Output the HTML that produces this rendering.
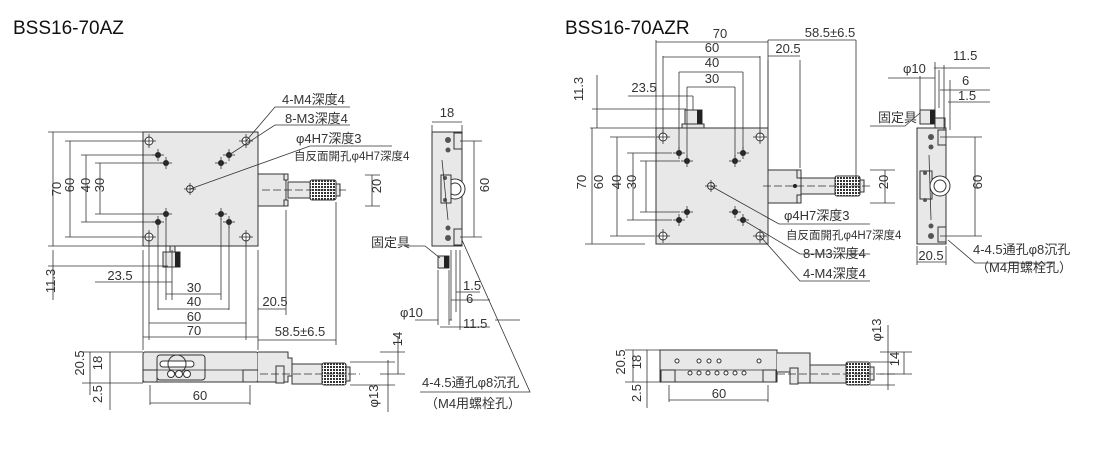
<!DOCTYPE html>
<html><head><meta charset="utf-8"><style>
html,body{margin:0;padding:0;background:#fff;width:1099px;height:466px;overflow:hidden}
svg{display:block}
text{font-family:"Liberation Sans","Noto Sans CJK JP",sans-serif;fill:#333;font-size:13px}
.t{font-size:19px;fill:#111}
.l{stroke:#333;stroke-width:0.8;fill:none}
.p{fill:#e8e8e8;stroke:#333;stroke-width:1}
.k{fill:#555}
</style></head><body>
<svg width="1099" height="466" viewBox="0 0 1099 466" xmlns="http://www.w3.org/2000/svg">
<defs>
<pattern id="kn" width="3" height="3" patternUnits="userSpaceOnUse"><rect width="3" height="3" fill="#fff"/><rect width="2" height="2" fill="#333"/></pattern>
<g id="m4"><circle r="4" fill="#fff" stroke="#333"/><line x1="-7" y1="0" x2="7" y2="0" class="l"/><line x1="0" y1="-7" x2="0" y2="7" class="l"/></g>
<g id="m3"><circle r="3" fill="#222"/><line x1="-6" y1="0" x2="6" y2="0" class="l"/><line x1="0" y1="-6" x2="0" y2="6" class="l"/></g>
</defs>
<text x="13" y="34" class="t">BSS16-70AZ</text>
<text x="565" y="34" class="t">BSS16-70AZR</text>

<!-- LEFT TOP VIEW -->
<rect x="143" y="132" width="115" height="114" class="p"/>
<use href="#m4" x="149" y="141"/><use href="#m4" x="246" y="141"/><use href="#m4" x="149" y="237"/><use href="#m4" x="246" y="237"/>
<use href="#m3" x="158" y="155"/><use href="#m3" x="166" y="163"/><use href="#m3" x="158" y="222"/><use href="#m3" x="166" y="214"/>
<use href="#m3" x="221" y="163"/><use href="#m3" x="229" y="155"/><use href="#m3" x="221" y="214"/><use href="#m3" x="229" y="222"/>
<circle cx="190" cy="189" r="3.5" fill="#fff" stroke="#333"/><line x1="184" y1="189" x2="196" y2="189" class="l"/><line x1="190" y1="183" x2="190" y2="195" class="l"/>
<rect x="258" y="174" width="28" height="32" class="p"/>
<rect x="284" y="174" width="4" height="6" class="p"/><rect x="284" y="200" width="4" height="6" class="p"/>
<rect x="288" y="182" width="22" height="16" class="p"/>
<rect x="310" y="180" width="26" height="20" rx="2" fill="url(#kn)" stroke="#333"/>
<rect x="336" y="184" width="4" height="12" class="p"/>
<line x1="262" y1="190" x2="346" y2="190" class="l" stroke-dasharray="8 3"/>
<rect x="163" y="252" width="17" height="15" class="p"/><rect x="175" y="252" width="5" height="15" fill="#222"/>
<rect x="170" y="246" width="5" height="6" class="p"/>
<!-- dims left -->
<g class="l">
<path d="M53 132V246M48 132H143M70 141V237M65 141H143M65 237H143M86 155V222M81 155H155M81 222H155M100 163V214M95 163H163M95 214H163M48 246H143"/>
<path d="M53 250V300M48 266H168M95 282H172M172 250V300M166 218V300M221 218V300M166 294H221M158 225V310M229 225V310M158 309H229M149 240V340M246 240V340M149 323H246M143 250V350M258 250V350M143 337H258M286 210V315M258 309H286M336 202V345M258 340H336"/>
<path d="M365 175H380M365 206H380M372 175V206"/>
</g>
<text x="54" y="196" transform="rotate(-90 54 189)" text-anchor="middle">70</text>
<text x="71" y="196" transform="rotate(-90 67 189)" text-anchor="middle">60</text>
<text x="87" y="196" transform="rotate(-90 83 189)" text-anchor="middle">40</text>
<text x="101" y="196" transform="rotate(-90 97 189)" text-anchor="middle">30</text>
<text x="54" y="290" transform="rotate(-90 50 285)" text-anchor="middle">11.3</text>
<text x="385" y="190" transform="rotate(-90 381 190)" text-anchor="middle">20</text>
<text x="120" y="280" text-anchor="middle">23.5</text>
<text x="194" y="292" text-anchor="middle">30</text>
<text x="194" y="306" text-anchor="middle">40</text>
<text x="194" y="321" text-anchor="middle">60</text>
<text x="194" y="335" text-anchor="middle">70</text>
<text x="275" y="306" text-anchor="middle">20.5</text>
<text x="300" y="336" text-anchor="middle">58.5±6.5</text>
<!-- leaders -->
<g class="l"><path d="M246 141L275 107H350M229 155L275 125H350M190 189L310 146H392"/></g>
<text x="282" y="104">4-M4深度4</text>
<text x="285" y="123">8-M3深度4</text>
<text x="296" y="143">φ4H7深度3</text>
<text x="294" y="160" style="font-size:11.5px">自反面開孔φ4H7深度4</text>

<!-- LEFT SIDE VIEW -->
<rect x="432" y="132" width="30" height="114" class="p"/>
<rect x="454" y="133" width="8" height="16" class="p"/><rect x="454" y="229" width="8" height="16" class="p"/>
<circle cx="455" cy="189" r="10" fill="#fff" stroke="#333"/><circle cx="455" cy="189" r="6" fill="#fff" stroke="#333"/>
<rect x="441" y="175" width="10" height="28" class="p"/>
<circle cx="426" cy="-30" r="0"/>
<g fill="#555"><circle cx="448" cy="140" r="3"/><circle cx="448" cy="150" r="2.5"/><circle cx="448" cy="228" r="2.5"/><circle cx="448" cy="238" r="3"/><circle cx="445" cy="178" r="2"/><circle cx="445" cy="200" r="2"/></g>
<line x1="442" y1="160" x2="448" y2="220" class="l"/>
<rect x="438" y="256" width="11" height="12" class="p"/><rect x="444" y="256" width="5" height="12" fill="#222"/>
<g class="l"><path d="M432 125V132M462 125V132M432 122H462M460 141H482M460 237H482M474 141V237"/>
<path d="M438 270V325M449 270V325M451 250V320M456 250V312M460 250V330M456 292H480M451 300H490M415 320H438M440 327H490M449 320H452M495 320H520"/>
<path d="M404 246H425L440 258M462 240L530 392H420"/></g>
<text x="447" y="117" text-anchor="middle">18</text>
<text x="486" y="196" transform="rotate(-90 482 189)" text-anchor="middle">60</text>
<text x="371" y="247">固定具</text>
<text x="463" y="290">1.5</text>
<text x="466" y="303">6</text>
<text x="463" y="328">11.5</text>
<text x="400" y="317">φ10</text>

<!-- LEFT FRONT VIEW -->
<rect x="143" y="352" width="115" height="30" rx="2" class="p"/>
<rect x="157" y="355" width="48" height="25" rx="3" fill="none" stroke="#333"/>
<rect x="160" y="361" width="34" height="6" rx="3" fill="#fff" stroke="#333"/>
<circle cx="177" cy="364" r="9" fill="none" stroke="#333"/>
<g fill="#fff" stroke="#333"><circle cx="171" cy="374" r="3.5"/><circle cx="179" cy="374" r="3.5"/><circle cx="187" cy="374" r="3.5"/></g>
<rect x="143" y="370" width="14" height="12" fill="none" stroke="#333"/><rect x="243" y="370" width="15" height="12" fill="none" stroke="#333"/>
<line x1="157" y1="370" x2="243" y2="370" class="l"/>
<path d="M258 352H288V358H292V376H288V382H258" class="p"/>
<rect x="276" y="366" width="8" height="17" class="p"/>
<rect x="292" y="364" width="30" height="20" class="p"/>
<rect x="322" y="363" width="24" height="22" rx="2" fill="url(#kn)" stroke="#333"/>
<rect x="346" y="367" width="4" height="14" class="p"/>
<line x1="260" y1="374" x2="360" y2="374" class="l" stroke-dasharray="8 3"/>
<g class="l"><path d="M82 352H143M82 383H143M110 352V383M90 352V395M98 383H143M110 383V410M150 385V405M250 385V405M150 403H250M350 362H395M350 385H395M388 360V412M380 352H405M380 374H405M398 336V374"/></g>
<text x="88" y="367" transform="rotate(-90 84 367)" text-anchor="middle">20.5</text>
<text x="106" y="367" transform="rotate(-90 102 367)" text-anchor="middle">18</text>
<text x="106" y="398" transform="rotate(-90 102 398)" text-anchor="middle">2.5</text>
<text x="200" y="400" text-anchor="middle">60</text>
<text x="406" y="343" transform="rotate(-90 402 343)" text-anchor="middle">14</text>
<text x="382" y="400" transform="rotate(-90 378 400)" text-anchor="middle">φ13</text>
<text x="422" y="387">4-4.5通孔φ8沉孔</text>
<text x="425" y="408">（M4用螺栓孔）</text>

<!-- RIGHT TOP VIEW -->
<rect x="656" y="128" width="112" height="116" class="p"/>
<use href="#m4" x="663" y="137"/><use href="#m4" x="760" y="137"/><use href="#m4" x="663" y="236"/><use href="#m4" x="760" y="236"/>
<use href="#m3" x="679" y="153"/><use href="#m3" x="687" y="161"/><use href="#m3" x="679" y="220"/><use href="#m3" x="687" y="212"/>
<use href="#m3" x="735" y="161"/><use href="#m3" x="743" y="153"/><use href="#m3" x="735" y="212"/><use href="#m3" x="743" y="220"/>
<circle cx="711" cy="186" r="3.5" fill="#fff" stroke="#333"/><line x1="705" y1="186" x2="717" y2="186" class="l"/><line x1="711" y1="180" x2="711" y2="192" class="l"/>
<rect x="768" y="170" width="33" height="33" class="p"/>
<rect x="797" y="170" width="4" height="8" class="p"/><rect x="797" y="195" width="4" height="8" class="p"/>
<circle cx="795" cy="186" r="2" fill="#222"/>
<rect x="801" y="178" width="34" height="16" class="p"/>
<rect x="835" y="176" width="25" height="20" rx="2" fill="url(#kn)" stroke="#333"/>
<rect x="860" y="180" width="4" height="12" class="p"/>
<line x1="763" y1="186" x2="870" y2="186" class="l" stroke-dasharray="8 3"/>
<rect x="685" y="110" width="17" height="15" class="p"/><rect x="697" y="110" width="5" height="15" fill="#222"/>
<rect x="682" y="124" width="22" height="4" class="p"/>
<g class="l">
<path d="M656 40V128M768 40V128M656 42H768M663 56V134M760 56V134M663 57H760M679 72V150M743 72V150M679 72H743M687 87V158M735 87V158M687 87H735M628 96H693M693 96V110"/>
<path d="M768 60V168M800 60V168M768 56H800M856 40V180M768 40H856M592 109H686M590 128H656M597 75V128"/>
<path d="M592 128V244M585 244H645M617 137V236M610 236H655M610 137H655M633 153V220M627 153H672M627 220H672M646 161V212M640 161H680M640 212H680"/>
<path d="M870 170H895M870 203H895M885 170V203"/>
<path d="M711 186L779 224H870M743 220L800 254H870M760 236L800 281H870"/>
</g>
<text x="720" y="38" text-anchor="middle">70</text>
<text x="712" y="52" text-anchor="middle">60</text>
<text x="712" y="67" text-anchor="middle">40</text>
<text x="712" y="83" text-anchor="middle">30</text>
<text x="644" y="92" text-anchor="middle">23.5</text>
<text x="788" y="53" text-anchor="middle">20.5</text>
<text x="830" y="37" text-anchor="middle">58.5±6.5</text>
<text x="587" y="93" transform="rotate(-90 583 93)" text-anchor="middle">11.3</text>
<text x="590" y="186" transform="rotate(-90 586 186)" text-anchor="middle">70</text>
<text x="607" y="186" transform="rotate(-90 603 186)" text-anchor="middle">60</text>
<text x="625" y="186" transform="rotate(-90 621 186)" text-anchor="middle">40</text>
<text x="640" y="186" transform="rotate(-90 636 186)" text-anchor="middle">30</text>
<text x="892" y="186" transform="rotate(-90 888 186)" text-anchor="middle">20</text>
<text x="784" y="220">φ4H7深度3</text>
<text x="786" y="239" style="font-size:11.5px">自反面開孔φ4H7深度4</text>
<text x="803" y="258">8-M3深度4</text>
<text x="803" y="278">4-M4深度4</text>

<!-- RIGHT SIDE VIEW -->
<rect x="917" y="128" width="29" height="116" class="p"/>
<rect x="938" y="130" width="8" height="15" class="p"/><rect x="938" y="227" width="8" height="15" class="p"/>
<rect x="920" y="171" width="12" height="28" class="p"/>
<circle cx="940" cy="186" r="10" fill="#fff" stroke="#333"/><circle cx="940" cy="186" r="6" fill="#fff" stroke="#333"/>
<g fill="#555"><circle cx="931" cy="137" r="3"/><circle cx="931" cy="147" r="2.5"/><circle cx="931" cy="226" r="2.5"/><circle cx="931" cy="236" r="3"/><circle cx="925" cy="173" r="2"/><circle cx="925" cy="200" r="2"/></g>
<line x1="929" y1="155" x2="931" y2="220" class="l"/>
<rect x="920" y="110" width="15" height="14" class="p"/><rect x="930" y="110" width="5" height="14" fill="#222"/>
<rect x="935" y="118" width="10" height="10" class="p"/>
<g class="l"><path d="M920 76V110M935 62V110M939 70V108M944 65V130M950 80V130M888 78H935M934 68H990M940 90H990M948 102H990M940 137H982M940 236H982M975 137V236M917 246V265M946 246V265M917 262H946M948 240L975 263H1055M870 126H905L920 113"/></g>
<text x="953" y="60">11.5</text>
<text x="962" y="85">6</text>
<text x="958" y="100">1.5</text>
<text x="903" y="73">φ10</text>
<text x="878" y="122">固定具</text>
<text x="986" y="186" transform="rotate(-90 982 186)" text-anchor="middle">60</text>
<text x="931" y="260" text-anchor="middle">20.5</text>
<text x="973" y="254">4-4.5通孔φ8沉孔</text>
<text x="976" y="272">（M4用螺栓孔）</text>

<!-- RIGHT FRONT VIEW -->
<rect x="660" y="350" width="117" height="32" class="p"/>
<g fill="#fff" stroke="#333"><circle cx="677" cy="361" r="2"/><circle cx="699" cy="361" r="2"/><circle cx="709" cy="361" r="2"/><circle cx="719" cy="361" r="2"/><circle cx="759" cy="361" r="2"/>
<circle cx="690" cy="373" r="2"/><circle cx="699" cy="373" r="2"/><circle cx="708" cy="373" r="2"/><circle cx="717" cy="373" r="2"/><circle cx="726" cy="373" r="2"/><circle cx="735" cy="373" r="2"/><circle cx="744" cy="373" r="2"/></g>
<rect x="661" y="370" width="14" height="12" fill="none" stroke="#333"/><rect x="763" y="370" width="13" height="12" fill="none" stroke="#333"/>
<line x1="675" y1="370" x2="763" y2="370" class="l"/>
<path d="M777 353H810V383H790V372H777" class="p"/>
<rect x="790" y="368" width="8" height="16" class="p"/>
<rect x="810" y="365" width="36" height="18" class="p"/>
<rect x="846" y="362" width="24" height="23" rx="2" fill="url(#kn)" stroke="#333"/>
<rect x="870" y="367" width="4" height="13" class="p"/>
<line x1="777" y1="374" x2="895" y2="374" class="l" stroke-dasharray="8 3"/>
<g class="l"><path d="M625 350H660M625 382H660M633 350V382M647 350V382M640 382H660M647 382V408M669 385V402M768 385V402M669 400H768M870 362H895M870 385H895M888 325V390M880 352H912M880 374H912M904 352V374"/></g>
<text x="629" y="366" transform="rotate(-90 625 366)" text-anchor="middle">20.5</text>
<text x="645" y="366" transform="rotate(-90 641 366)" text-anchor="middle">18</text>
<text x="645" y="397" transform="rotate(-90 641 397)" text-anchor="middle">2.5</text>
<text x="719" y="398" text-anchor="middle">60</text>
<text x="885" y="334" transform="rotate(-90 881 334)" text-anchor="middle">φ13</text>
<text x="903" y="363" transform="rotate(-90 899 363)" text-anchor="middle">14</text>
</svg>
</body></html>
